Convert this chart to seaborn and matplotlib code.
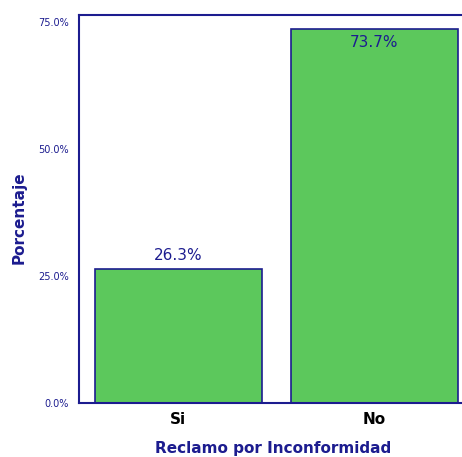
import matplotlib
matplotlib.use("Agg")
import matplotlib.pyplot as plt
import seaborn as sns
import pandas as pd

categories = ["Si", "No"]
values = [26.3, 73.7]
value_labels = ["26.3%", "73.7%"]
yticks = [0, 25, 50, 75]
ytick_labels = ["0.0%", "25.0%", "50.0%", "75.0%"]

sns.set_style("white")
plt.rcParams['font.family'] = ['DejaVu Sans']

navy = '#1c1c8f'
green = '#5cc85c'
df = pd.DataFrame({"cat": categories, "val": values})

fig = plt.figure(figsize=(4.62, 4.57), dpi=100)
ax = fig.add_axes([79/462, 1-403/457, 1.01-79/462, (403-15)/457])
sns.barplot(data=df, x="cat", y="val", ax=ax, color=green, width=0.85,
            edgecolor=navy, linewidth=1.2, saturation=1)

ax.set_xlim(-0.506, 1.47)
ax.set_ylim(0, 76.4)
ax.set_yticks(yticks)
ax.set_yticklabels(ytick_labels, fontsize=7, color=navy)
ax.set_xticks([0, 1])
ax.set_xticklabels(categories, fontsize=11, fontweight='bold', color='black')
ax.tick_params(axis='both', length=5, width=1.5, color=navy, direction='inout', pad=4)
ax.tick_params(axis='y', length=7)

for s in ['left', 'top', 'bottom']:
    ax.spines[s].set_visible(True)
    ax.spines[s].set_color(navy)
    ax.spines[s].set_linewidth(1.5)
ax.spines['right'].set_visible(False)

ax.set_ylabel("Porcentaje", fontsize=11, fontweight='bold', color=navy)
ax.yaxis.set_label_coords(-0.134, 0.477)
ax.set_xlabel("Reclamo por Inconformidad", fontsize=11, fontweight='bold', color=navy, labelpad=10)

ax.text(0, values[0] + 1.3, value_labels[0], ha='center', va='bottom', fontsize=11, color=navy)
ax.text(1, values[1] - 1.2, value_labels[1], ha='center', va='top', fontsize=11, color=navy)

fig.savefig("out.png", dpi=100)
